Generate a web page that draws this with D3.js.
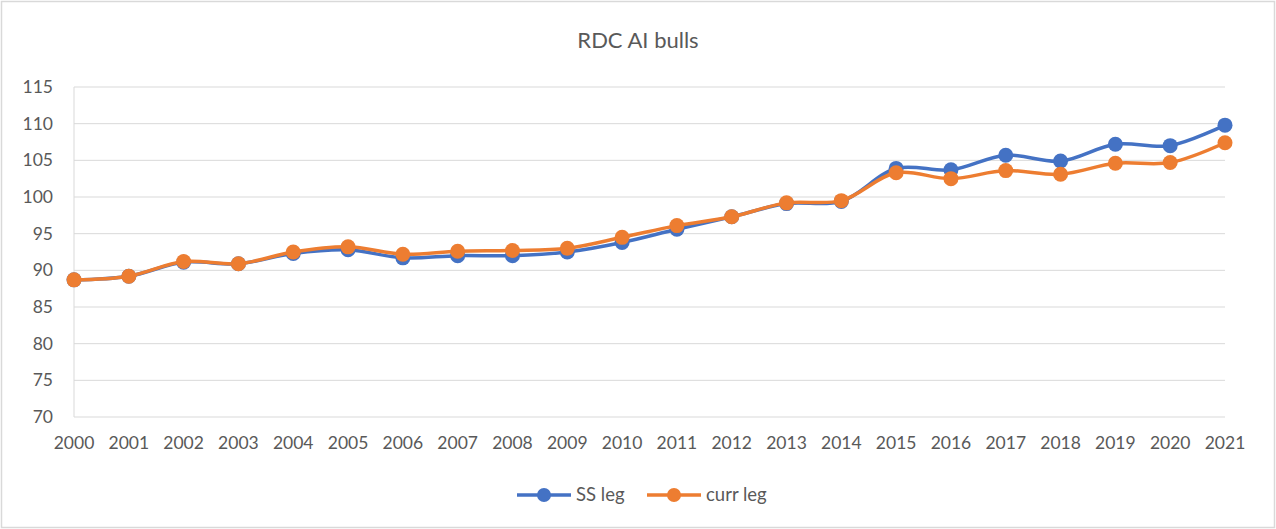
<!DOCTYPE html>
<html>
<head>
<meta charset="utf-8">
<script src="https://cdn.jsdelivr.net/npm/d3@7"></script>
<style>
  body { margin: 0; background: #fff; }
  text { font-family: Lato, "Open Sans", sans-serif; fill: #595959; }
</style>
</head>
<body>
<svg width="1276" height="529"></svg>
<script>
// data
var years = ["2000","2001","2002","2003","2004","2005","2006","2007","2008","2009","2010",
             "2011","2012","2013","2014","2015","2016","2017","2018","2019","2020","2021"];
var ssLeg   = [88.7, 89.2, 91.1, 90.9, 92.3, 92.8, 91.7, 92.0, 92.0, 92.5, 93.8,
               95.6, 97.3, 99.1, 99.4, 103.9, 103.7, 105.7, 104.9, 107.2, 107.0, 109.8];
var currLeg = [88.7, 89.2, 91.2, 90.9, 92.5, 93.2, 92.2, 92.6, 92.7, 93.0, 94.5,
               96.1, 97.3, 99.2, 99.5, 103.3, 102.5, 103.6, 103.1, 104.6, 104.7, 107.4];
var yTicks = [70, 75, 80, 85, 90, 95, 100, 105, 110, 115];

var series = [
  {name: "SS leg",   values: ssLeg,   color: "#4472C4"},
  {name: "curr leg", values: currLeg, color: "#ED7D31"}
];

var svg = d3.select("svg"),
    margin = {top: 87, right: 51, bottom: 112, left: 74},
    width = svg.attr("width") - margin.left - margin.right,
    height = svg.attr("height") - margin.top - margin.bottom;

// chart border
svg.append("rect")
    .attr("x", 1.5).attr("y", 1.5)
    .attr("width", 1273).attr("height", 526)
    .attr("fill", "#fff")
    .attr("stroke", "#d9d9d9")
    .attr("stroke-width", 1.5);

var x = d3.scalePoint().domain(years).range([0, width]);
var y = d3.scaleLinear().domain([70, 115]).range([height, 0]);

var g = svg.append("g")
    .attr("transform", "translate(" + margin.left + "," + margin.top + ")");

// gridlines
g.append("g").selectAll("line").data(yTicks).enter().append("line")
    .attr("x1", 0).attr("x2", width)
    .attr("y1", d => y(d)).attr("y2", d => y(d))
    .attr("stroke", "#d9d9d9").attr("stroke-width", 1);

// y axis line
g.append("line")
    .attr("x1", 0).attr("x2", 0).attr("y1", 0).attr("y2", height)
    .attr("stroke", "#d9d9d9").attr("stroke-width", 1);

// y labels
g.append("g").selectAll("text").data(yTicks).enter().append("text")
    .attr("x", -21).attr("y", d => y(d))
    .attr("dy", "0.35em")
    .attr("text-anchor", "end")
    .style("font-size", "17.5px")
    .text(d => d);

// x labels
g.append("g").selectAll("text").data(years).enter().append("text")
    .attr("x", d => x(d)).attr("y", height + 26)
    .attr("dy", "0.35em")
    .attr("text-anchor", "middle")
    .style("font-size", "17.5px")
    .text(d => d);

var line = d3.line()
    .x((d, i) => x(years[i]))
    .y(d => y(d))
    .curve(d3.curveCatmullRom.alpha(0.5));

series.forEach(function(s) {
  g.append("path")
      .datum(s.values)
      .attr("fill", "none")
      .attr("stroke", s.color)
      .attr("stroke-width", 3.5)
      .attr("stroke-linejoin", "round")
      .attr("d", line);
  g.append("g").selectAll("circle").data(s.values).enter().append("circle")
      .attr("cx", (d, i) => x(years[i]))
      .attr("cy", d => y(d))
      .attr("r", 7.5)
      .attr("fill", s.color);
});

// title
svg.append("text")
    .attr("x", 638).attr("y", 40)
    .attr("dy", "0.35em")
    .attr("text-anchor", "middle")
    .style("font-size", "22px")
    .text("RDC AI bulls");

// legend
var legendX = [517, 647];
var legend = svg.append("g").selectAll("g").data(series).enter().append("g")
    .attr("transform", (d, i) => "translate(" + legendX[i] + ",495)");
legend.append("line")
    .attr("x1", 0).attr("x2", 54)
    .attr("stroke", d => d.color).attr("stroke-width", 3.5);
legend.append("circle")
    .attr("cx", 27).attr("r", 7)
    .attr("fill", d => d.color);
legend.append("text")
    .attr("x", 59).attr("dy", "0.35em")
    .style("font-size", "18.5px")
    .text(d => d.name);
</script>
</body>
</html>
